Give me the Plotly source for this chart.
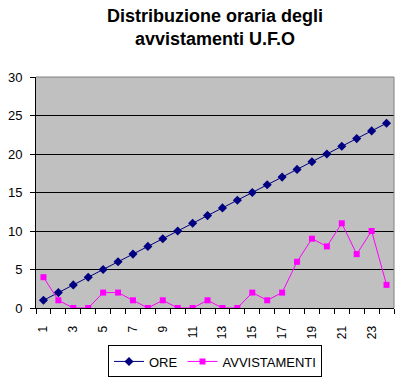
import plotly.graph_objects as go

hours = list(range(1, 25))
ore = list(range(1, 25))
avvistamenti = [4, 1, 0, 0, 2, 2, 1, 0, 1, 0, 0, 1, 0, 0, 2, 1, 2, 6, 9, 8, 11, 7, 10, 3]
tick_labels = [str(h) for h in hours if h % 2 == 1]
y_ticks = [0, 5, 10, 15, 20, 25, 30]

FONT = "Arial, Liberation Sans, sans-serif"

fig = go.Figure()
fig.add_trace(go.Scatter(
    x=hours, y=ore, name="ORE", mode="lines+markers",
    line=dict(color="#000080", width=1),
    marker=dict(symbol="diamond", size=7, color="#000080"),
))
fig.add_trace(go.Scatter(
    x=hours, y=avvistamenti, name="AVVISTAMENTI", mode="lines+markers",
    line=dict(color="#FF00FF", width=1),
    marker=dict(symbol="square", size=6, color="#FF00FF"),
))

boundaries = [h - 0.5 for h in hours] + [hours[-1] + 0.5]

fig.update_layout(
    width=400, height=379,
    margin=dict(l=36, r=6, t=77, b=71),
    paper_bgcolor="white",
    plot_bgcolor="#C0C0C0",
    font=dict(family=FONT, size=12, color="black"),
    showlegend=True,
    legend=dict(
        orientation="h", x=0.5, xanchor="center", xref="paper",
        y=0.004, yanchor="bottom", yref="container",
        bordercolor="black", borderwidth=1, bgcolor="white",
        font=dict(family=FONT, size=13), itemwidth=30,
    ),
    xaxis=dict(
        range=[0.5, 24.5],
        tickmode="array",
        tickvals=[int(t) for t in tick_labels],
        ticktext=tick_labels,
        tickangle=-90,
        ticks="", ticklen=0,
        ticklabelstandoff=12,
        showgrid=False, zeroline=False,
        showline=True, linecolor="black", linewidth=1,
        minor=dict(tickmode="array", tickvals=boundaries, ticks="outside",
                   ticklen=5, tickcolor="black", showgrid=False),
        tickfont=dict(family=FONT, size=12),
    ),
    yaxis=dict(
        range=[0, 30],
        tickmode="array", tickvals=y_ticks,
        ticks="outside", ticklen=5, tickcolor="black",
        ticklabelstandoff=5,
        showgrid=True, gridcolor="black", gridwidth=1,
        zeroline=False,
        showline=True, linecolor="black", linewidth=1,
        tickfont=dict(family=FONT, size=13),
    ),
    shapes=[
        dict(type="line", xref="paper", yref="paper", x0=0, x1=1, y0=1, y1=1,
             line=dict(color="#808080", width=1), layer="above"),
        dict(type="line", xref="paper", yref="paper", x0=1, x1=1, y0=0, y1=1,
             line=dict(color="#808080", width=1), layer="above"),
    ],
    annotations=[dict(
        text="<b>Distribuzione oraria degli<br>avvistamenti U.F.O</b>",
        xref="paper", yref="paper", x=0.5, y=1.215,
        xanchor="center", yanchor="middle", showarrow=False,
        font=dict(family=FONT, size=18, color="black"),
    )],
)

fig.write_html("out.html", config={"displayModeBar": False},
               post_script="document.body.style.margin='0';")
